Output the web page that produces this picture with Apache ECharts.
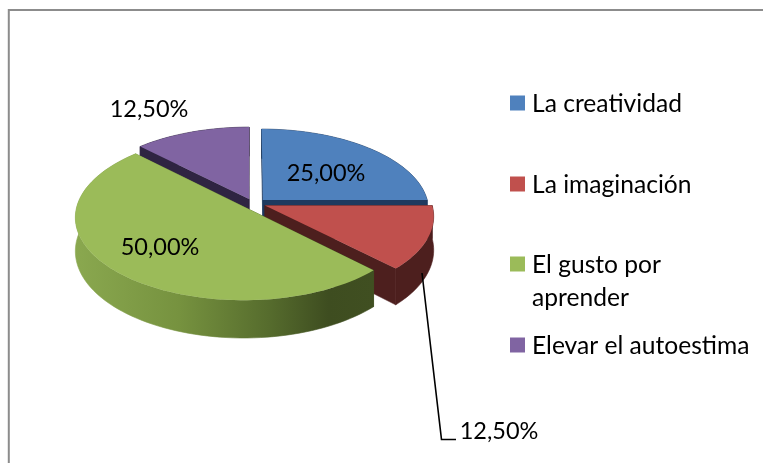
<!DOCTYPE html>
<html><head><meta charset="utf-8">
<style>html,body{margin:0;padding:0;background:#fff}#c{width:763px;height:463px}</style>
<script src="https://cdn.jsdelivr.net/npm/echarts@6/dist/echarts.min.js"></script>
</head><body><div id="c"></div>
<script>
const categories = ['La creatividad', 'La imaginación', 'El gusto por\naprender', 'Elevar el autoestima'];
const values = [25, 12.5, 50, 12.5];
const colors = ['#4f81bd', '#c0504d', '#9bbb59', '#8064a2'];

const FONT = 'Lato';
const view = {cx: 250, cy: 203, R: 165, q: 0.485, k: 0.12, h: 33};
const sliceLayout = [
  {ou: 0.079, ov: -0.039, s: 1, z: 2, wall: '#1f3a5f', label: [326, 173]},
  {ou: 0.09, ov: 0.032, s: 1.01, z: 3, wall: '#4d1f1e', label: [499, 431]},
  {ou: -0.034, ov: 0.05, s: 1.01, z: 4, label: [160, 247]},
  {ou: -0.006, ov: -0.05, s: 1.02, z: 1, wall: '#2f2442', label: [149, 109]}
];
const total = values.reduce((a, b) => a + b, 0);
function project(u, v, down) {
  const w = 1 - view.k * v;
  return [view.cx + view.R * u / w, view.cy + view.R * view.q * v / w + (down ? view.h / w : 0)];
}
function pointOf(l, frac, down, atCentre) {
  const t = frac * Math.PI * 2, r = atCentre ? 0 : l.s;
  return project(l.ou + r * Math.sin(t), l.ov - r * Math.cos(t), down);
}
function renderItem(params, api) {
  const i = params.dataIndex, l = sliceLayout[i];
  let before = 0;
  for (let j = 0; j < i; j++) before += values[j];
  const f0 = before / total, f1 = f0 + api.value(0) / total;
  const arc = [], low = [];
  const steps = Math.max(12, Math.round((f1 - f0) * 180));
  for (let n = 0; n <= steps; n++) {
    const f = f0 + (f1 - f0) * n / steps;
    arc.push(pointOf(l, f, false));
    low.push(pointOf(l, f, true));
  }
  const base = 10 * l.z;
  const wallFill = l.wall || new echarts.graphic.LinearGradient(75, 0, 373, 0, [
    {offset: 0, color: '#8aa84f'}, {offset: 0.35, color: '#76923f'}, {offset: 0.65, color: '#566c2d'},
    {offset: 0.85, color: '#3e4d20'}, {offset: 1, color: '#404f21'}], true);
  const apex = pointOf(l, f0, false, true), apexD = pointOf(l, f0, true, true);
  const wallStyle = {fill: wallFill, stroke: wallFill, lineWidth: 0.6};
  const cut = (p, q) => ({type: 'polygon', z2: base + 1, shape: {points: [apex, p, q, apexD]}, style: wallStyle});
  const children = [
    cut(arc[0], low[0]),
    cut(arc[arc.length - 1], low[low.length - 1]),
    {type: 'polygon', z2: base + 2, shape: {points: arc.concat(low.slice().reverse())}, style: wallStyle},
    {type: 'polygon', z2: base + 3, shape: {points: [apex].concat(arc)}, style: {fill: colors[i]}},
    {type: 'text', z2: 100, style: {x: l.label[0], y: l.label[1], text: api.value(0).toFixed(2).replace('.', ',') + '%',
      font: '23.5px ' + FONT, fill: '#000', align: 'center', verticalAlign: 'middle'}}
  ];
  return {type: 'group', children};
}
const legendY = [103, 184, 264, 345];
const graphic = [
  {type: 'polyline', shape: {points: [[8.8, 470], [8.8, 10], [763, 10]]}, style: {fill: 'none', stroke: '#8c8c8c', lineWidth: 2}},
  {type: 'polyline', z: 5, shape: {points: [[422, 273], [441.5, 439.5], [456, 439.5]]}, style: {fill: 'none', stroke: '#000', lineWidth: 1.6}}
];
categories.forEach((c, i) => {
  graphic.push({type: 'rect', shape: {x: 510, y: legendY[i] - 7.5, width: 15, height: 15}, style: {fill: colors[i]}});
  graphic.push({type: 'text', style: {x: 532, y: legendY[i] - 15.5, text: c, font: '24.6px ' + FONT, fill: '#000', lineHeight: 33, verticalAlign: 'top'}});
});
const chart = echarts.init(document.getElementById('c'), null, {renderer: 'canvas'});
chart.setOption({
  animation: false,
  graphic,
  series: [{type: 'custom', coordinateSystem: 'none', renderItem, data: values.map((v, i) => ({value: [v], name: categories[i]}))}]
});
</script></body></html>
